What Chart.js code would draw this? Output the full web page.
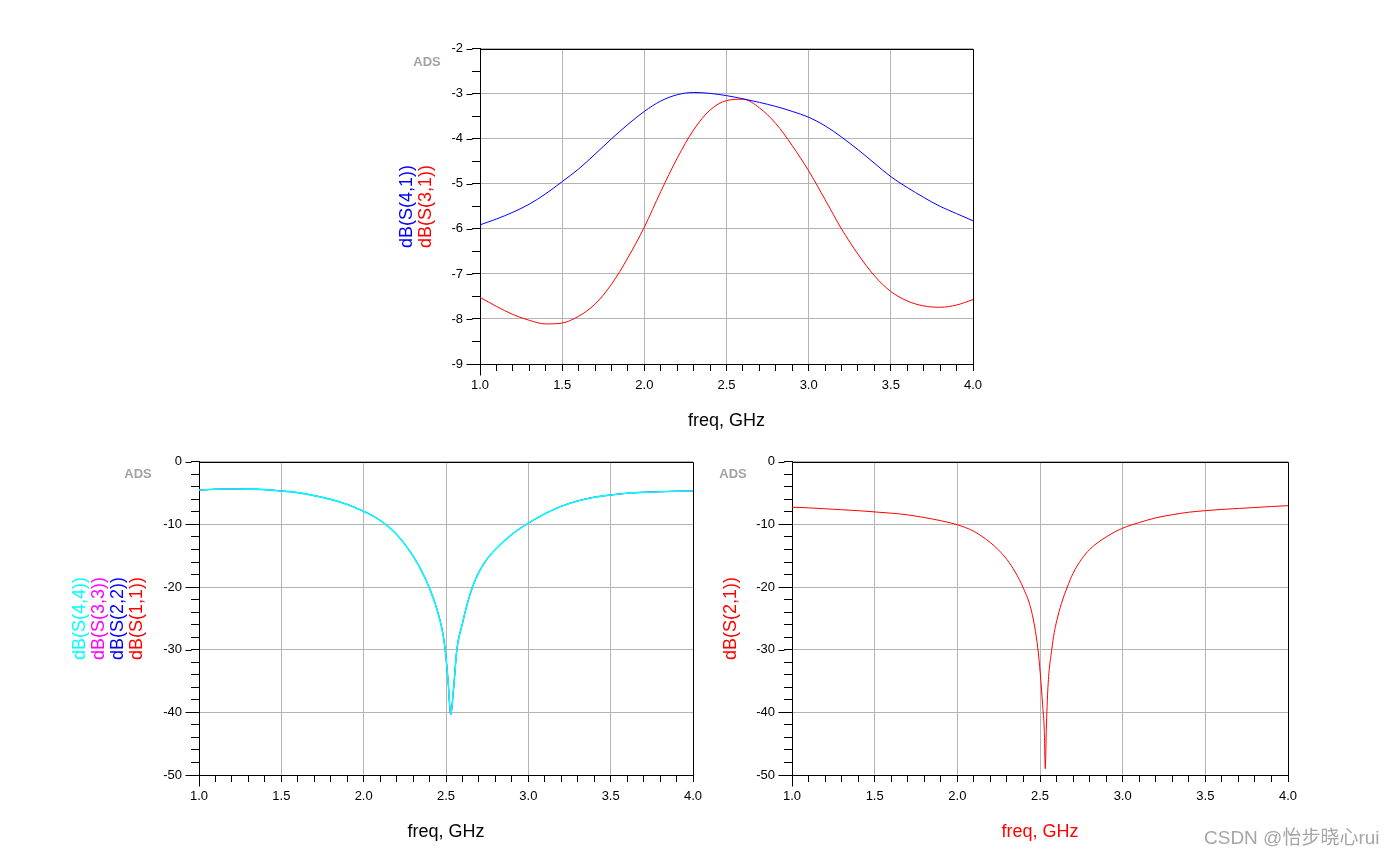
<!DOCTYPE html>
<html><head><meta charset="utf-8">
<script src="https://cdn.jsdelivr.net/npm/chart.js@4.4.1/dist/chart.umd.min.js"></script>
<style>
html,body{margin:0;padding:0;background:#fff;width:1392px;height:857px;overflow:hidden;position:relative;}
canvas{position:absolute;}
#wm{position:absolute;left:1204px;top:822px;font:19px 'Liberation Sans','Noto Sans CJK SC',sans-serif;color:#a6a6a6;white-space:nowrap;}
</style></head><body>
<canvas id="cTop" width="640" height="417" style="left:380px;top:32px"></canvas>
<canvas id="cBL" width="694" height="405" style="left:49px;top:445px"></canvas>
<canvas id="cBR" width="646" height="405" style="left:692px;top:445px"></canvas>
<div id="wm">CSDN @怡步晓心rui</div>
<script>
const FONT = "'Liberation Sans', Arial, sans-serif";

// ---- axis ranges / tick labelling ----
const xRange = [1.0, 4.0];
const topYRange = [-9, -2];
const bottomYRange = [-50, 0];

// ---- top chart: dB(S(4,1)) and dB(S(3,1)) ----
const freqTop = [1.0,1.1,1.2,1.3,1.4,1.5,1.6,1.7,1.8,1.9,2.0,2.1,2.2,2.3,2.4,2.5,2.6,2.7,2.8,2.9,3.0,3.1,3.2,3.3,3.4,3.5,3.6,3.7,3.8,3.9,4.0];
const dbS41 = [-5.91,-5.78,-5.63,-5.45,-5.22,-4.95,-4.67,-4.34,-4.00,-3.68,-3.39,-3.16,-3.02,-2.97,-2.99,-3.04,-3.11,-3.19,-3.28,-3.39,-3.52,-3.71,-3.96,-4.24,-4.54,-4.84,-5.08,-5.30,-5.50,-5.66,-5.82];
const dbS31 = [-7.52,-7.72,-7.90,-8.03,-8.11,-8.09,-7.94,-7.67,-7.23,-6.64,-5.96,-5.17,-4.43,-3.80,-3.36,-3.15,-3.12,-3.31,-3.66,-4.15,-4.71,-5.35,-6.00,-6.56,-7.04,-7.39,-7.60,-7.71,-7.74,-7.69,-7.57];

// ---- bottom-left: reflection dB(S(1,1)) .. dB(S(4,4)) (curves coincide) ----
const freqRefl = [1.0,1.1,1.2,1.3,1.4,1.5,1.6,1.7,1.8,1.9,2.0,2.05,2.1,2.15,2.2,2.25,2.3,2.35,2.4,2.45,2.48,2.495,2.511,2.529,2.545,2.566,2.6,2.63,2.661,2.7,2.75,2.8,2.9,3.0,3.1,3.2,3.3,3.4,3.5,3.6,3.7,3.8,3.9,4.0];
const dbS44 = [-4.5,-4.38,-4.34,-4.36,-4.44,-4.66,-4.92,-5.4,-6.0,-6.8,-7.9,-8.55,-9.35,-10.35,-11.6,-13.15,-15.05,-17.35,-20.2,-24.0,-27.3,-30.0,-34.4,-40.3,-36.5,-30.0,-25.8,-22.6,-20.0,-17.6,-15.5,-14.0,-11.6,-9.8,-8.3,-7.1,-6.25,-5.65,-5.3,-5.02,-4.87,-4.77,-4.7,-4.66];
const dbS33 = [-4.5,-4.38,-4.34,-4.36,-4.44,-4.66,-4.92,-5.4,-6.0,-6.8,-7.9,-8.55,-9.35,-10.35,-11.6,-13.15,-15.05,-17.35,-20.2,-24.0,-27.3,-30.0,-34.4,-40.3,-36.5,-30.0,-25.8,-22.6,-20.0,-17.6,-15.5,-14.0,-11.6,-9.8,-8.3,-7.1,-6.25,-5.65,-5.3,-5.02,-4.87,-4.77,-4.7,-4.66];
const dbS22 = [-4.5,-4.38,-4.34,-4.36,-4.44,-4.66,-4.92,-5.4,-6.0,-6.8,-7.9,-8.55,-9.35,-10.35,-11.6,-13.15,-15.05,-17.35,-20.2,-24.0,-27.3,-30.0,-34.4,-40.3,-36.5,-30.0,-25.8,-22.6,-20.0,-17.6,-15.5,-14.0,-11.6,-9.8,-8.3,-7.1,-6.25,-5.65,-5.3,-5.02,-4.87,-4.77,-4.7,-4.66];
const dbS11 = [-4.5,-4.38,-4.34,-4.36,-4.44,-4.66,-4.92,-5.4,-6.0,-6.8,-7.9,-8.55,-9.35,-10.35,-11.6,-13.15,-15.05,-17.35,-20.2,-24.0,-27.3,-30.0,-34.4,-40.3,-36.5,-30.0,-25.8,-22.6,-20.0,-17.6,-15.5,-14.0,-11.6,-9.8,-8.3,-7.1,-6.25,-5.65,-5.3,-5.02,-4.87,-4.77,-4.7,-4.66];

// ---- bottom-right: dB(S(2,1)) ----
const freqS21 = [1.0,1.1,1.2,1.3,1.4,1.5,1.6,1.7,1.8,1.9,2.0,2.1,2.2,2.25,2.3,2.35,2.4,2.45,2.486,2.502,2.516,2.526,2.532,2.538,2.548,2.571,2.586,2.601,2.63,2.665,2.7,2.75,2.8,2.9,3.0,3.1,3.2,3.3,3.4,3.5,3.6,3.7,3.8,3.9,4.0];
const dbS21 = [-7.25,-7.35,-7.5,-7.65,-7.8,-8.0,-8.2,-8.47,-8.9,-9.4,-10.05,-11.1,-12.9,-14.1,-15.6,-17.6,-20.2,-24.0,-29.6,-33.9,-38.9,-42.9,-49.0,-42.9,-36.0,-30.0,-27.3,-25.4,-22.6,-20.0,-17.8,-15.6,-14.0,-12.0,-10.6,-9.7,-8.95,-8.45,-8.05,-7.8,-7.6,-7.45,-7.3,-7.14,-7.0];

function pts(fs, vs){ return fs.map((f,i)=>({x:f, y:vs[i]})); }
function px(v){ return Math.round(v) + 0.5; }

const decor = {
  id: 'decor',
  afterDraw(chart) {
    const o = chart.options.plugins.decor;
    const {ctx, chartArea: a, scales: {y}} = chart;
    ctx.save();
    ctx.strokeStyle = '#000'; ctx.lineWidth = 1;
    ctx.beginPath();
    ctx.moveTo(px(a.left), px(a.top)); ctx.lineTo(px(a.right), px(a.top));
    ctx.moveTo(px(a.right), px(a.top)); ctx.lineTo(px(a.right), px(a.bottom));
    ctx.moveTo(px(a.left), px(a.bottom)); ctx.lineTo(px(a.left), px(a.bottom) + 11);
    for (let v = o.yMin; v <= o.yMax + 1e-9; v += o.yMajor) {
      const p = px(y.getPixelForValue(v));
      ctx.moveTo(px(a.left) - 8, p); ctx.lineTo(px(a.left) - 14, p);
    }
    ctx.stroke();
    ctx.font = '18px ' + FONT;
    ctx.textAlign = 'center'; ctx.textBaseline = 'middle';
    const cy = (a.top + a.bottom) / 2;
    o.yTitles.forEach(t => {
      ctx.save();
      ctx.translate(a.left + t.off, cy);
      ctx.rotate(-Math.PI / 2);
      ctx.fillStyle = t.color;
      ctx.fillText(t.text, 0, 0);
      ctx.restore();
    });
    ctx.fillStyle = o.xTitleColor;
    ctx.fillText('freq, GHz', (a.left + a.right) / 2, a.bottom + 57);
    ctx.font = 'bold 13px ' + FONT;
    ctx.fillStyle = '#a3a3a3';
    ctx.fillText('ADS', a.left + o.ads[0], a.top + o.ads[1]);
    ctx.restore();
  }
};

function makeChart(id, cfg) {
  const isXMajor = v => Math.abs(v * 2 - Math.round(v * 2)) < 1e-6;
  const isYMajor = v => Math.abs(v / cfg.yMajor - Math.round(v / cfg.yMajor)) < 1e-6;
  return new Chart(document.getElementById(id), {
    type: 'scatter',
    data: { datasets: cfg.datasets.map((d, i) => ({
      data: d.data, borderColor: d.color, backgroundColor: d.color, order: i,
      showLine: true, pointRadius: 0, borderWidth: d.width || 1, cubicInterpolationMode: 'monotone', fill: false
    })) },
    plugins: [decor],
    options: {
      responsive: false, animation: false, devicePixelRatio: 1,
      layout: { padding: { top: 10, right: cfg.padRight, left: 0, bottom: 0 } },
      plugins: {
        legend: { display: false }, tooltip: { enabled: false },
        decor: { yTitles: cfg.yTitles, xTitleColor: cfg.xTitleColor, ads: cfg.ads,
                 yMin: cfg.yRange[0], yMax: cfg.yRange[1], yMajor: cfg.yMajor }
      },
      scales: {
        x: {
          type: 'linear', min: xRange[0], max: xRange[1],
          afterFit(s) { s.height = cfg.xH; },
          ticks: { stepSize: 0.1, autoSkip: false, maxRotation: 0, maxTicksLimit: 200, padding: 7,
                   color: '#000', font: { size: 13, family: FONT },
                   callback: v => isXMajor(v) ? v.toFixed(1) : '' },
          grid: { color: c => (c.tick && isXMajor(c.tick.value)) ? '#b4b4b4' : 'rgba(0,0,0,0)',
                  tickColor: '#000', tickLength: 7, lineWidth: 1 },
          border: { color: '#000', width: 1 }
        },
        y: {
          type: 'linear', min: cfg.yRange[0], max: cfg.yRange[1],
          afterFit(s) { s.width = cfg.yW; },
          ticks: { stepSize: cfg.yMinor, autoSkip: false, maxTicksLimit: 200, padding: 9,
                   color: '#000', font: { size: 13, family: FONT },
                   callback: v => isYMajor(v) ? String(Math.round(v)) : '' },
          grid: { color: c => (c.tick && isYMajor(c.tick.value)) ? '#b4b4b4' : 'rgba(0,0,0,0)',
                  tickColor: '#000', tickLength: 8, lineWidth: 1 },
          border: { color: '#000', width: 1 }
        }
      }
    }
  });
}

makeChart('cTop', {
  yW: 100, xH: 85, padRight: 47, yRange: topYRange, yMajor: 1, yMinor: 0.5,
  datasets: [
    { data: pts(freqTop, dbS41), color: '#0000ff' },
    { data: pts(freqTop, dbS31), color: '#ff0000' }
  ],
  yTitles: [ { text: 'dB(S(4,1))', color: '#0000ff', off: -73 },
             { text: 'dB(S(3,1))', color: '#ff0000', off: -54 } ],
  xTitleColor: '#000', ads: [-53, 14]
});

makeChart('cBL', {
  yW: 150, xH: 75, padRight: 50, yRange: bottomYRange, yMajor: 10, yMinor: 2,
  datasets: [
    { data: pts(freqRefl, dbS44), color: '#00ffff', width: 1.6 },
    { data: pts(freqRefl, dbS33), color: '#ff00ff', width: 0.8 },
    { data: pts(freqRefl, dbS22), color: '#0000ff', width: 0.8 },
    { data: pts(freqRefl, dbS11), color: '#ff0000', width: 0.8 }
  ],
  yTitles: [ { text: 'dB(S(4,4))', color: '#00ffff', off: -119 },
             { text: 'dB(S(3,3))', color: '#ff00ff', off: -100 },
             { text: 'dB(S(2,2))', color: '#0000ff', off: -81 },
             { text: 'dB(S(1,1))', color: '#ff0000', off: -62 } ],
  xTitleColor: '#000', ads: [-61, 13]
});

makeChart('cBR', {
  yW: 100, xH: 75, padRight: 50, yRange: bottomYRange, yMajor: 10, yMinor: 2,
  datasets: [ { data: pts(freqS21, dbS21), color: '#ff0000' } ],
  yTitles: [ { text: 'dB(S(2,1))', color: '#ff0000', off: -61 } ],
  xTitleColor: '#ff0000', ads: [-59, 13]
});
</script>
</body></html>
